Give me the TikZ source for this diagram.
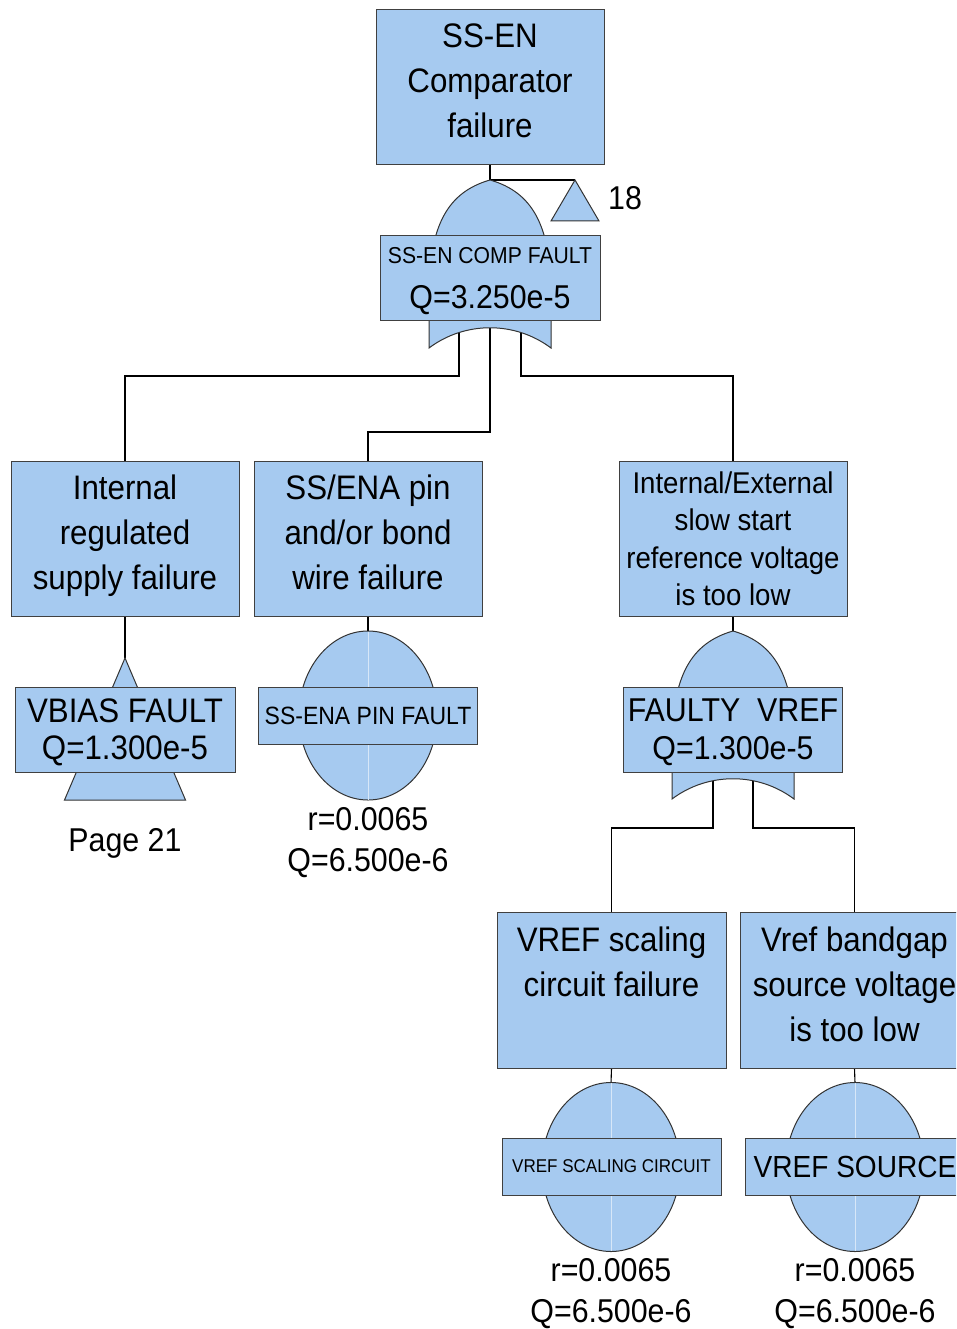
\documentclass[tikz,border=0pt]{standalone}
\usepackage{fontspec}
\setmainfont{Liberation Sans}[FakeStretch=0.92]
\usetikzlibrary{backgrounds}
\definecolor{evblue}{RGB}{166,202,240}
\newcommand\fsz[2]{\fontsize{#1}{#2}\selectfont}
\tikzset{
  evbox/.style={draw=black!75,fill=evblue,line width=1pt,align=center,inner sep=0pt},
  gateshape/.style={draw=black!80,fill=evblue,line width=1pt},
  wire/.style={draw=black,line width=1.1pt},
  plain/.style={align=center,inner sep=0pt}
}
\newcommand\orgate[2]{%
  \begin{scope}[shift={(#1,#2)}]
    \draw[gateshape] (0,0) .. controls (-42,12) and (-61,45) .. (-61,115) -- (-61,168)
      .. controls (-25,141) and (25,141) .. (61,168) -- (61,115)
      .. controls (61,45) and (42,12) .. cycle;
  \end{scope}}
\newcommand\basicevent[2]{%
  \draw[gateshape] (#1,#2) ellipse [x radius=69, y radius=84.5];
  \draw[white!55!evblue,line width=0.8pt] (#1,#2-84) -- (#1,#2+84);}
\newcommand\transfer[4]{%
  \draw[gateshape] (#1,#2) -- (#1-#3,#2+#4) -- (#1+#3,#2+#4) -- cycle;}

\begin{document}
\begin{tikzpicture}[x=1pt,y=-1pt]
\useasboundingbox (0,0) rectangle (956,1329);
\clip (0,0) rectangle (956,1329);

\orgate{490}{180}
\transfer{575}{180}{24}{41}
\transfer{125}{658}{60.5}{142}
\basicevent{368}{715.5}
\orgate{733}{631}
\basicevent{611}{1167}
\basicevent{855}{1167}

\coordinate (g1top) at (490,180);
\coordinate (t18) at (575,180);
\coordinate (g1in1) at (459,320);
\coordinate (g1in2) at (490,320);
\coordinate (g1in3) at (521,320);
\coordinate (vbtop) at (125,658);
\coordinate (e1top) at (368,631);
\coordinate (g2top) at (733,631);
\coordinate (g2in1) at (713,772);
\coordinate (g2in2) at (753,772);
\coordinate (e2top) at (611,1083);
\coordinate (e3top) at (855,1083);

\node[evbox,minimum width=228pt,minimum height=155pt,font=\fsz{34}{45},text depth=13pt] (comp) at (490,87.5) {SS-EN\\Comparator\\failure};
\node[evbox,minimum width=220pt,minimum height=84pt,text depth=-8pt] (compfault) at (490,278)
  {{\fsz{23}{27}SS-EN COMP FAULT}\\[20pt]{\fsz{33}{38}Q=3.250e-5}};

\node[evbox,minimum width=228pt,minimum height=155pt,font=\fsz{34}{45},text depth=13pt] (regsup) at (125,538.5) {Internal\\regulated\\supply failure};
\node[evbox,minimum width=228pt,minimum height=155pt,font=\fsz{34}{45},text depth=12pt] (pinfail) at (368,538.5) {SS/ENA pin\\and/or bond\\wire failure};
\node[evbox,minimum width=228pt,minimum height=155pt,font=\fsz{30}{37.5},text depth=-10pt] (sslow) at (733,538.5) {Internal/External\\slow start\\reference voltage\\is too low};

\node[evbox,minimum width=220pt,minimum height=85pt,font=\fsz{34}{37},text depth=-15pt] (vbias) at (125,729.5) {VBIAS FAULT\\Q=1.300e-5};
\node[plain,font=\fsz{33}{40}] (page) at (125,843) {Page 21};
\node[evbox,minimum width=219pt,minimum height=57pt,font=\fsz{25}{29}] (pinev) at (368,715.5) {SS-ENA PIN FAULT};
\node[plain,font=\fsz{33}{41}] (pinq) at (368,842.5) {r=0.0065\\Q=6.500e-6};
\node[evbox,minimum width=219pt,minimum height=85pt,font=\fsz{33}{38},text depth=-12pt] (vref) at (733,729.5) {FAULTY\ \ VREF\\Q=1.300e-5};
\node[plain,font=\fsz{33}{40}] (n18) at (625,198) {18};

\node[evbox,minimum width=229pt,minimum height=156pt,font=\fsz{34}{44.5},text depth=12pt] (scale) at (611.5,990) {VREF scaling\\circuit failure\\~};
\node[evbox,minimum width=229pt,minimum height=156pt,font=\fsz{34}{45},text depth=11pt] (bgap) at (854.5,990) {Vref bandgap\\source voltage\\is too low};
\node[evbox,minimum width=219pt,minimum height=57pt,font=\fsz{18.5}{22}] (scaleev) at (611.5,1166.5) {VREF SCALING CIRCUIT};
\node[evbox,minimum width=220pt,minimum height=57pt,font=\fsz{30.5}{36}] (srcev) at (855,1166.5) {VREF SOURCE};
\node[plain,font=\fsz{33}{41}] (scaleq) at (611,1294) {r=0.0065\\Q=6.500e-6};
\node[plain,font=\fsz{33}{41}] (srcq) at (855,1294) {r=0.0065\\Q=6.500e-6};

\begin{pgfonlayer}{background}
\draw[wire] (comp.south) -- (g1top) -- (t18);
\draw[wire] (g1in1) -- (g1in1 |- 0,376) -| (regsup.north);
\draw[wire] (g1in2) -- (g1in2 |- 0,432) -| (pinfail.north);
\draw[wire] (g1in3) -- (g1in3 |- 0,376) -| (sslow.north);
\draw[wire] (regsup.south) -- (vbtop);
\draw[wire] (pinfail.south) -- (e1top);
\draw[wire] (sslow.south) -- (g2top);
\draw[wire] (g2in1) -- (g2in1 |- 0,828) -| (scale.north);
\draw[wire] (g2in2) -- (g2in2 |- 0,828) -| (bgap.north);
\draw[wire] (scale.south) -- (e2top);
\draw[wire] (bgap.south) -- (e3top);
\end{pgfonlayer}
\end{tikzpicture}
\end{document}
